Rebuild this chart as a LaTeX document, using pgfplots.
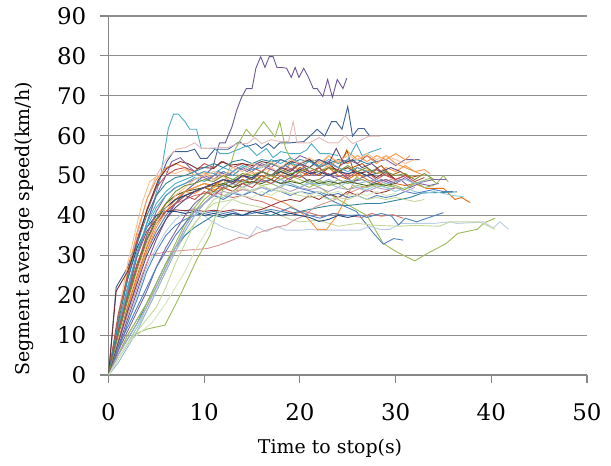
\documentclass[border=0pt]{standalone}
\usepackage{fontspec}
\setmainfont{DejaVu Serif}
\usepackage{pgfplots}
\pgfplotsset{compat=1.18}
\usetikzlibrary{calc}

% series colours
\definecolor{c1}{HTML}{6B5595}
\definecolor{c2}{HTML}{3C5F94}
\definecolor{c3}{HTML}{4BACC6}
\definecolor{c4}{HTML}{E6B9B8}
\definecolor{c5}{HTML}{9BBB59}
\definecolor{c6}{HTML}{4F81BD}
\definecolor{c7}{HTML}{B9CDE5}
\definecolor{c8}{HTML}{C3D69B}
\definecolor{c9}{HTML}{F79646}
\definecolor{c10}{HTML}{E46C0A}
\definecolor{c11}{HTML}{31859C}
\definecolor{c12}{HTML}{D99694}
\definecolor{c13}{HTML}{CD7371}
\definecolor{c14}{HTML}{4F81BD}
\definecolor{c15}{HTML}{953735}
\definecolor{c16}{HTML}{1F497D}
\definecolor{c17}{HTML}{8064A2}
\definecolor{c18}{HTML}{F79646}
\definecolor{c19}{HTML}{FAC090}
\definecolor{c20}{HTML}{9BBB59}
\definecolor{c21}{HTML}{8064A2}
\definecolor{c22}{HTML}{93CDDD}
\definecolor{c23}{HTML}{B65708}
\definecolor{c24}{HTML}{4BACC6}
\definecolor{c25}{HTML}{C0504D}
\definecolor{c26}{HTML}{772C2A}
\definecolor{c27}{HTML}{8064A2}
\definecolor{c28}{HTML}{9BBB59}
\definecolor{c29}{HTML}{4F81BD}
\definecolor{c30}{HTML}{95B3D7}
\definecolor{c31}{HTML}{4F6228}
\definecolor{c32}{HTML}{F79646}
\definecolor{c33}{HTML}{4BACC6}
\definecolor{c34}{HTML}{C0504D}
\definecolor{c35}{HTML}{31859C}
\definecolor{c36}{HTML}{B3A2C7}
\definecolor{c37}{HTML}{C3D69B}
\definecolor{c38}{HTML}{1F497D}
\definecolor{c39}{HTML}{FAC090}
\definecolor{c40}{HTML}{5F497A}
\definecolor{c41}{HTML}{76923C}
\definecolor{c42}{HTML}{D7E4BD}
\definecolor{gridgray}{HTML}{8E8E8E}
\definecolor{axisgray}{HTML}{868686}

\begin{document}
\begin{tikzpicture}
\begin{axis}[
  name=ax,
  scale only axis,
  width=478.5bp, height=359bp,
  xmin=0, xmax=50, ymin=0, ymax=90,
  xtick={0,10,...,50}, ytick={0,10,...,90},
  axis lines*=left,
  axis line style={axisgray, line width=1.6bp},
  ymajorgrids,
  major grid style={gridgray, line width=1.1bp},
  tick align=outside,
  major tick length=8bp,
  tick style={axisgray, line width=1.1bp},
  /pgf/number format/assume math mode=true,
  tick label style={font=\fontsize{23}{23}\selectfont, black},
  yticklabel style={inner sep=0pt, xshift=-14bp},
  xticklabel style={inner sep=0pt, yshift=-20bp},
  label style={font=\fontsize{19}{19}\selectfont},
  xlabel={Time to stop(s)},
  ylabel={Segment average speed(km/h)},
  xlabel style={at={(axis description cs:0.463,-0.22)}, anchor=base},
  ylabel style={at={(axis description cs:-0.1766,0.407)}, anchor=center},
  every axis plot/.append style={line width=0.9bp, mark=none},
]
% S1
\addplot[c1] coordinates {(0,0)(1,7)(2,14)(3,21)(4,28)(5,34)(6,39)(7,43)(8,46)(9,48)(10,50)(10.9,52)(11.6,58.2)(12.2,58.2)(12.9,62.2)(13.4,66.4)(13.9,69.6)(14.4,71.8)(15,71.8)(15.4,76.9)(15.9,79.8)(16.35,77.1)(16.8,79.8)(17.2,79.8)(17.6,77.1)(18.1,77.1)(18.6,76.9)(19.1,74.6)(19.5,77.1)(19.9,74.6)(20.4,76.9)(20.9,74.6)(21.4,71.8)(21.8,71.8)(22.4,69.8)(22.9,74.1)(23.4,69.6)(23.9,74.1)(24.5,71.8)(24.9,74.4)};
% S2
\addplot[c2] coordinates {(0,0)(0.8,22)(2,27)(3,34)(4,41)(5,47)(6.1,53.5)(6.8,56)(8.2,56)(9,56.6)(9.6,54.3)(10.3,54.3)(11.1,56.6)(12.5,56.6)(13.7,58.5)(14.4,57.2)(15.4,58)(16,56.8)(16.7,58)(17.3,56.8)(17.9,58.2)(19,58.2)(20.4,58.5)(21.1,60)(21.8,61.6)(22.6,59.9)(23.3,63.5)(23.8,63.5)(24.4,61.6)(25,67.3)(25.5,59.9)(26.1,61.8)(26.7,61.8)(27.3,59.9)};
% S3
\addplot[c3] coordinates {(0,0)(1,10)(2,20)(3,30)(4,38)(4.8,44)(5.4,49.3)(6.25,61.8)(6.8,65.4)(7.3,65.4)(8,63.5)(8.5,61.6)(9.2,61.6)(9.7,56.8)(11.1,56.8)(11.65,55.5)(12.5,55.5)(13.5,56.5)(14.5,57.5)(15.5,55)(16.5,56.8)(17.2,54.5)(18,56)(19,55.5)(20,55.5)(20.7,56.4)(21.2,58)(22.1,55.5)(23,55.5)(24,55)};
% S4
\addplot[c4] coordinates {(0,0)(1,14)(2,25)(3,35)(4,44)(5,50)(6,54)(7.1,56.6)(8,57)(9,58.2)(9.7,56.8)(10.5,56.8)(11.5,57)(12.5,57)(13.5,58)(14.5,58)(15.3,59.5)(16,58)(17,59)(18,58.5)(18.8,58.5)(19.3,63.5)(19.7,58.2)(21,58.2)(22,59.5)(23,58.2)(24,58.2)(24.7,60)(25.5,58)(26.5,59)(27.2,59.9)(28.4,59.9)};
% S5
\addplot[c5] coordinates {(0,0)(1,4)(2.6,10)(4,11.5)(5.9,12.5)(7.5,20)(9.2,28.8)(10.6,35)(11.65,43.9)(12.2,48.9)(12.7,52.2)(13.2,56.4)(14.4,61.6)(15.1,59.7)(16.2,63.5)(17.4,59.7)(17.9,63.5)(18.5,56.8)(19.3,53)(20.2,50)(21,48)(22.1,47)(23,45.5)(24,44)(25.5,42)(27,40)(28.7,33)(30,31)(32,28.6)(33.2,30.3)(35.3,33)(36.5,35.5)(38.5,36.5)(39.3,38.2)(40.4,39.3)};
% S6
\addplot[c6] coordinates {(0,0)(1,8)(2,16)(3,24)(4,31)(5,36)(6,40)(7,43)(8,45)(9,46)(10,47)(11,48)(12,47.5)(13,49)(14,48.5)(15,49.5)(16,48.5)(17,49)(18,48)(19,47.5)(20,46.8)(22.1,45.5)(23.5,43.5)(25.9,41)(27.7,35.5)(28.7,32.8)(29.8,34.2)(30.8,33.8)};
% S7
\addplot[c7] coordinates {(0,0)(1,6)(2,13)(3,20)(4,27)(5,32)(6,36)(7,39)(8,41)(9,42)(10,40)(10.6,38.8)(12,37)(13.4,35.9)(14.8,34.7)(15.5,37.2)(16.5,35.9)(17.6,37.3)(18.5,36.3)(20,36.3)(21,36.5)(22,36.3)(24,36.3)(26.3,36.3)(27.3,37.3)(28.4,36.5)(29.4,36.5)(30.5,38)(32,38)(34,38)(35.7,38.4)(36.4,38)(38.1,38.2)(39.2,38.4)(40.2,36.8)(40.9,38.4)(41.8,36.5)};
% S8
\addplot[c8] coordinates {(0,0)(1,4)(2,8)(3,12)(4,16)(5,21)(6,26)(7,31)(8,35)(9,38)(10,41)(11,43)(12,43.5)(13,44)(14,43)(15,42.5)(16,42)(17,41)(18,40)(19,39)(20,38.4)(22,38.8)(24,37.3)(26,38)(28,37.5)(30.5,37.3)(32,37.5)(34.6,37.3)(35.7,38.4)(38.8,38.4)(40.4,36.5)};
% S9
\addplot[c9] coordinates {(0,0)(1,10)(2,20)(3,28)(4,35)(5,40)(6,43)(7,45)(8,46)(9,45.5)(10,47)(11,46.5)(12,47)(13,46)(14,46.5)(15,46)(16,45)(17,44.5)(18.5,43)(20,41)(21,38.8)(21.8,36.5)(22.8,36.5)(23.8,39.7)(24.9,44.7)(25.9,49.7)(27,51.4)(28,50.5)(29,52)(30,51)(31,52.5)(32,51)(33,50)};
% S10
\addplot[c10] coordinates {(0,0)(1,9)(2,17)(3,25)(4,32)(5,38)(6,42)(7,44)(8,46)(9,47)(10,48)(11,47.5)(12,49)(13,48)(14,50)(15,49)(16,51)(17,50)(18,49)(19,50.5)(20,49.5)(21,51)(22,50)(23,52)(24,50)(25,49)(26,50.5)(27,49)(28,48)(29,49)(30,48)(31,47.5)(32,48)(33.2,46.8)(35,46.8)(36.2,44)(36.9,44.5)(37.8,43.2)};
% S11
\addplot[c11] coordinates {(0,0)(1,5)(2,9)(3,13)(4,18)(5,23)(6,28)(7,32)(8,35)(9,37)(10,38.5)(11,40)(12,39.5)(13,40.5)(14,40)(15,41)(16,40.5)(17,40)(18,41)(19,40.5)(20,41)(21,41.5)(22,42)(23.5,42.6)(25,42.5)(27,43)(28.4,43)(30.5,44)(31.5,44.5)(32.9,45.7)(34,45.7)(36.4,45.9)};
% S12
\addplot[c12] coordinates {(0,0)(1,8)(2,15)(3,22)(4.3,30)(6.1,30.9)(8.2,31.3)(10.3,31.7)(11.5,32.5)(12.5,33.4)(13.7,34.5)(14.5,34.2)(15.5,35.5)(16.5,36.3)(17.5,37)(18.6,37.6)(19.5,39)(20.5,40)(21.5,42)(22.5,43)(23.5,43.8)(24.5,45)(25.5,46)(26.5,47)(27.5,47.5)(28.5,48)(29.5,49)(30.5,48.5)};
% S13
\addplot[c13] coordinates {(0,0)(1,10)(2,19)(3,27)(4,33)(5,38)(6,41)(7,43)(8,44)(9,45)(10,45.5)(11,46)(12,45)(13,44.5)(14,45)(15,44)(16,43.5)(17,42.5)(18.3,41.4)(19.5,40.5)(20.5,41)(22.4,39.7)(23.5,40.5)(25,40)(26.5,39.5)(27.5,40.5)(28.5,39.8)(29.7,40.2)(30.8,39.3)};
% S14
\addplot[c14] coordinates {(0,0)(1,6)(2,13)(3,19)(4,26)(5,31)(6,35)(7,37.5)(8,39)(9,40)(10,40.5)(11,41)(12,40.5)(13,41)(14,40)(15,40.5)(16,41)(17,41.5)(18,41)(19,42)(20,41)(21,40)(22.1,39.3)(23.5,40.5)(24.5,40)(26.3,40.1)(27,39.5)(28.5,40.5)(29.6,39.8)(30.3,37.6)(31,39.3)(32.2,38.4)(33.5,39.5)(35,40.7)};
% S15
\addplot[c15] coordinates {(0,0)(1,12)(2,22)(3,30)(4,36)(5,39)(6,41)(7,41.4)(8,41.2)(9,41.4)(10,41)(11,41.3)(12,41)(13,41.4)(14,41.2)(15,41)(16,41.5)(17,42.5)(18,43.5)(19,44)(20,43.5)(21,45)(22,44)(23,45.5)(24,44.5)(25,46)(26,45)(27,46.5)(28,45.5)(29,46)(30,47)};
% S16
\addplot[c16] coordinates {(0,0)(1,14)(2,24)(3,32)(4,37)(5,40)(6,41)(7,41)(8,40.5)(9,41)(10,40)(11,40.5)(12,40)(13,40.5)(14,40)(15,41)(16,40.5)(17,41)(18,40)(19,40.5)(20,40)(21,39.5)(22,38.5)(23,39)(24,40)(25,39.5)(26,40)};
% S17
\addplot[c17] coordinates {(0,0)(1,9)(2,18)(3,27)(4,35)(5,41)(6,45)(7,47)(8,48)(9,49)(10,50)(11,49)(12,51)(13,50)(14,52)(15,51)(16,53)(17,52)(18,54)(19,53)(20,55)(21,54)(22,52)(23,53.5)(24,52)(25,54)(26,53)(27,55)(28,53.5)(29,54)(30,52.5)(31,54)(32.5,54)};
% S18
\addplot[c18] coordinates {(0,0)(1,13)(2,26)(3,36)(4,44)(5,49)(6,52)(7,53)(8,52)(9,50)(10,51)(11,49)(12,50)(13,48)(14,50)(15,51)(16,49)(17,52)(18,50)(19,53)(20,51)(21,54)(22,52)(23,55)(24,53)(25,56)(26,54)(27,55)(28,53)(29,55)(30,53)(31,52)(32,51)(33,51.5)(33.6,50.5)};
% S19
\addplot[c19] coordinates {(0,0)(1,15)(2,28)(3,38)(3.5,43)(4.3,48.5)(5.2,50)(6,51)(7,50.5)(8,51.5)(9,50)(10,50.5)(11,49)(12,50)(13,51)(14,49.5)(15,50.5)(16,51)(17,52)(18,50)(19,51.5)(20,52)(21,50.5)(22,51)(23,52.5)(24,51)(25,52)(26,51)(27,52)(28,50.5)(29,51)};
% S20
\addplot[c20] coordinates {(0,0)(1,5)(2,10)(3,14)(4,18)(5,22)(6,27)(7,32)(8,37)(9,41)(10,44)(11,46)(12,46.5)(13,48)(14,47)(15,48.5)(16,47.5)(17,48)(18,47)(19,49)(20,48)(21,47)(22,48.5)(23,47.5)(24,48)(25,46.5)(26,47.5)(27,47)(28,48)(29,47)(30,47.5)(31,46.5)(32,48)(33.6,49.3)(34.3,48)(35,50)(35.5,48.4)};
% S21
\addplot[c21] coordinates {(0,0)(1,6)(2,11)(3,16)(4,21)(5,27)(6,32)(7,36)(8,40)(9,43)(10,45)(11,47.5)(12,47)(13,48)(14,49)(15,48)(16,50)(17,49)(18,48)(19,49.5)(20,50)(21,48.5)(22,49)(23,50.5)(24,49)(25,48)(26,49)(27,50)(28,48.5)(29,49)(30,48)(31,49.5)(32,48)(33,48.5)(34,49)(35.3,49)};
% S22
\addplot[c22] coordinates {(0,0)(1,4)(2,8)(3,12)(4,17)(5,22)(6,27)(7,32)(8,36)(9,40)(10,43)(11,45)(12,44.5)(13,46)(14,45)(15,46.5)(16,47)(17,46)(18,47.5)(19,48)(20,47)(21,48.5)(22,47.5)(23,48)(24,47)(25,48.5)(26,47)(27,46.5)(28,47.5)(29,47)(30,46)(31,47)(32,46)(33,45.5)(34,46)(35,45.5)(36,45)(37.1,44.7)};
% S23
\addplot[c23] coordinates {(0,0)(1,10)(2,19)(3,27)(4,34)(5,39)(6,42)(7,44)(8,45)(9,46)(10,47)(11,46)(12,48)(13,47)(14,49)(15,48)(16,50)(17,49)(18,51)(19,50)(20,52)(21,51)(22,50)(23,52)(24,51.5)(24.9,56.4)(25.5,52)(26.5,53)(27.5,51)(28.5,52.5)(29.5,50)(30.5,51)(31.5,49.5)(32.5,50)};
% S24
\addplot[c24] coordinates {(0,0)(1,11)(2,21)(3,30)(4,37)(5,42)(6,45)(7,47)(8,48)(9,49.5)(10,48.5)(11,50)(12,51)(13,50)(14,52)(15,53)(16,52)(17,54)(18,53)(19,54.5)(20,53)(21,54)(22,52.5)(23,54)(24,53)(25,54)(25.9,58)(26.5,55)(27.5,56)(28.5,56.8)};
% S25
\addplot[c25] coordinates {(0,0)(1,15)(2,25)(3,34)(4,41)(5,47)(6,50)(7,51.5)(8,52)(9,51)(10,53)(11,52)(12,53.5)(13,52)(14,53)(15,52)(16,51)(17,53)(18,52)(19,51.5)(20,53)(21,51)(22,52)(23,50)(24,51.5)(25,50)(26,52)(27,51)(28,49)(29,50.5)(30,49)(31,50)};
% S26
\addplot[c26] coordinates {(0,0)(0.8,21)(2,26)(3,33)(4,41.4)(5.2,48.9)(6.1,51.8)(7.5,53.5)(8.3,53)(9.2,51.8)(10,52)(11,51.8)(11.8,53.5)(12.7,52.6)(14,53)(15,52.5)(16,53.5)(17,53)(18,52)(19,53.5)(20,53)(21,54)(22,52)(23,53)(24,51)(25,52)(26,50.5)(27,51)(28,49.5)(29,51)(30,49)};
% S27
\addplot[c27] coordinates {(0,0)(1,10)(2,20)(3,30)(4,38)(5,45)(6,50)(6.6,53.5)(7.5,54.5)(8.5,52)(9.5,50)(10.5,49)(11.5,51)(12.5,50)(13.5,52)(14.5,51)(15.5,53)(16.5,52)(17.5,51)(18.5,52.5)(19.5,51)(20.5,52)(21.5,50)(22.5,51)(23.5,49.5)(24.5,50)(25.5,48.5)(26.5,49)(27.5,48)(28.5,49)(29.5,48)(30.5,49)(31.5,47)(32.5,48)(33.5,47.5)(34.5,48)};
% S28
\addplot[c28] coordinates {(0,0)(1,5)(2,10)(3,14)(4,18)(5,23)(6,28)(7,33)(8,38)(9,42)(10,45)(11,47)(12,48)(13,49)(14,48)(15,49.5)(16,49)(17,50)(18,49)(19,50)(20,49)(21,48)(22,49)(23,47.5)(24,49)(25,48)(26,49.5)(27,48.5)(28,47)(29,48)(30,47)(31,46.5)(32,48.5)(33,47)(34,47.5)};
% S29
\addplot[c29] coordinates {(0,0)(1,7)(2,12)(3,17)(4,22)(5,27)(6,31)(7,35)(8,38)(9,41)(10,43)(11,45)(12,44)(13,45.5)(14,45)(15,46)(16,45)(17,46.5)(18,46)(19,45)(20,46)(21,45.5)(22,46)(23,45)(24,45.5)(25,44.5)(26,45)(27,44)(28,45)(29,44.5)(30,45)(31,46)(32,45.5)(33,46)(34,46.5)(35,46)(36,46)};
% S30
\addplot[c30] coordinates {(0,0)(1,3)(2,7)(3,11)(4,16)(5,21)(6,26)(7,31)(8,36)(9,40)(10,43)(11,45.5)(12,47)(13,48)(14,47)(15,48)(16,49)(17,48)(18,49)(19,48)(20,47)(21,48)(22,48)(23,49)(24,48)(25,49)(26,48)(27,48.5)(28,49)(29,48)(30,48.5)(31,49)(32,48)(33,48.5)};
% S31
\addplot[c31] coordinates {(0,0)(1,9)(2,18)(3,27)(4,34)(5,39)(6,43)(7,45)(8,46)(9,46.5)(10,47)(11,47.5)(12,48)(13,47)(14,48)(15,48.5)(16,48)(17,49)(18,48)(19,48.5)(20,48)(21,49)(22,48)(23,48.5)(24,48)(25,48.5)(26,48)(27,47.5)(28,48)(29,47.5)(30,48)};
% S32
\addplot[c32] coordinates {(0,0)(1,8)(2,16)(3,24)(4,31)(5,37)(6,41)(7,44)(8,46)(9,47)(10,48)(11,47)(12,49)(13,48)(14,50)(15,49)(16,51)(17,50)(18,52)(19,51)(20,53)(21,52)(22,53.5)(23,52)(24,54)(25,53)(26,55)(27,53.5)(28,55)(29,54)(30,55.5)(31,54)(31.5,55)};
% S33
\addplot[c33] coordinates {(0,0)(1,12)(2,22)(3,31)(4,38)(5,43)(6,46)(7,48)(8,49)(9,50)(10,51)(11,50.5)(12,52)(13,51)(14,52.5)(15,51.5)(16,52)(17,53)(18,52)(19,53)(20,52.5)(21,53.5)(22,52)(23,53)(24,52)(25,51)(26,52)(27,51)(28,51.5)(29,50.5)};
% S34
\addplot[c34] coordinates {(0,0)(1,11)(2,20)(3,28)(4,34)(5,38)(6,41)(7,43)(8,45)(9,44)(10,46)(11,45)(12,47)(13,46)(14,48)(15,47)(16,49)(17,48)(18,50)(19,49)(20,51)(21,50)(22,52)(23,50)(24,51)(25,49.5)(26,51)(27,50)(28,51.5)(29,50)(30,49)(31,50)(32,48.5)(33,49.5)};
% S35
\addplot[c35] coordinates {(0,0)(1,13)(2,24)(3,33)(4,40)(5,45)(6,48)(7,49.5)(8,50)(9,51)(10,52)(11,53)(12,52)(13,53.5)(14,54)(15,53)(16,54)(17,53.5)(18,54)(19,53)(20,54)(21,53.5)(22,54)(23,53)(24,54)(25,53.5)(26,54)(27,53)(28,53.5)};
% S36
\addplot[c36] coordinates {(0,0)(1,5)(2,9)(3,13)(4,17)(5,22)(6,27)(7,32)(8,37)(9,41)(10,43)(11,45)(12,46)(13,45.5)(14,46.5)(15,46)(16,47)(17,46.5)(18,47)(19,46)(20,47)(21,46.5)(22,47)(23,46)(24,47)(25,46.5)(26,47)(27,46)(28,47)(29,46.5)(30,47)(31,46)(32,47)};
% S37
\addplot[c37] coordinates {(0,0)(1,4)(2,8)(3,11)(4,14)(5,17)(6,22)(7,28)(8,33)(9,38)(10,41)(11,44)(12,45)(13,46)(14,47)(15,46)(16,47.5)(17,46.5)(18,46)(19,45.5)(20,45)(21,44.5)(22,45)(23,44)(24,44.5)(25,44)(26,45)(27,44)(28,44.5)(29,44)(30,44.5)(31,44)(32,43.5)(33,44)};
% S38
\addplot[c38] coordinates {(0,0)(1,10)(2,19)(3,27)(4,34)(5,39)(6,42)(7,44)(8,45)(9,46)(10,47)(11,48)(12,49)(13,48.5)(14,50)(15,49.5)(16,51)(17,50)(18,51)(19,50)(20,51.5)(21,50.5)(22,51)(23,50)(24,51)(25,50.5)(26,51)(27,50)(28,50.5)};
% S39
\addplot[c39] coordinates {(0,0)(1,9)(2,18)(3,26)(4,33)(5,38)(6,42)(7,45)(8,47)(9,49)(10,50)(11,51)(12,50)(13,52)(14,51)(15,53)(16,52)(17,53.5)(18,52)(19,54)(20,53)(21,54.5)(22,53)(23,55)(24,53.5)(25,55)(26,54)(27,55.5)(28,54)(29,55)(30,54)(31,53)(32,54)};
% S40
\addplot[c40] coordinates {(0,0)(1,8)(2,16)(3,23)(4,30)(5,35)(6,39)(7,42)(8,44)(9,46)(10,47)(11,48)(12,49)(13,48)(14,50)(15,49)(16,51)(17,50)(18,52)(19,51)(20,53)(21,52)(22,54)(23,53)(23.8,56.8)(24.6,53)(25.5,54)(26.5,52)(27.5,53)(28.5,51)(29.5,52)(30.5,51)};
% S41
\addplot[c41] coordinates {(0,0)(1,10)(2,19)(3,27)(4,34)(5,39)(6,43)(7,46)(8,47.5)(9,48)(10,49)(11,48.5)(12,50)(13,49)(14,50.5)(15,50)(16,51)(17,50)(18,51.5)(19,50.5)(20,51)(21,52)(22,51)(23,52)(24,51)(25,52.5)(26,51)(27,52)(28,50.5)(29,51)(30,50)(31,50.5)(32,49)(33,50.5)(34,49)};
% S42
\addplot[c42] coordinates {(0,0)(2,8)(3,10)(4.5,13)(6,18)(7,22)(8,26)(9,31)(10,35)(11,39)(12,42)(13,44)(14,45)(15,44.5)(16,46)(17,45)(18,46.5)(19,45.5)(20,46)(21,45)(22,46)(23,45.5)(24,46)(25,45)(26,45.5)(27,45)(28,46)(29,45)(30,45.5)};
\end{axis}
% page frame around the axis rectangle
\path ($(ax.south west)+(-108.5bp,-91bp)$) rectangle ($(ax.north east)+(24bp,16bp)$);
\end{tikzpicture}
\end{document}
